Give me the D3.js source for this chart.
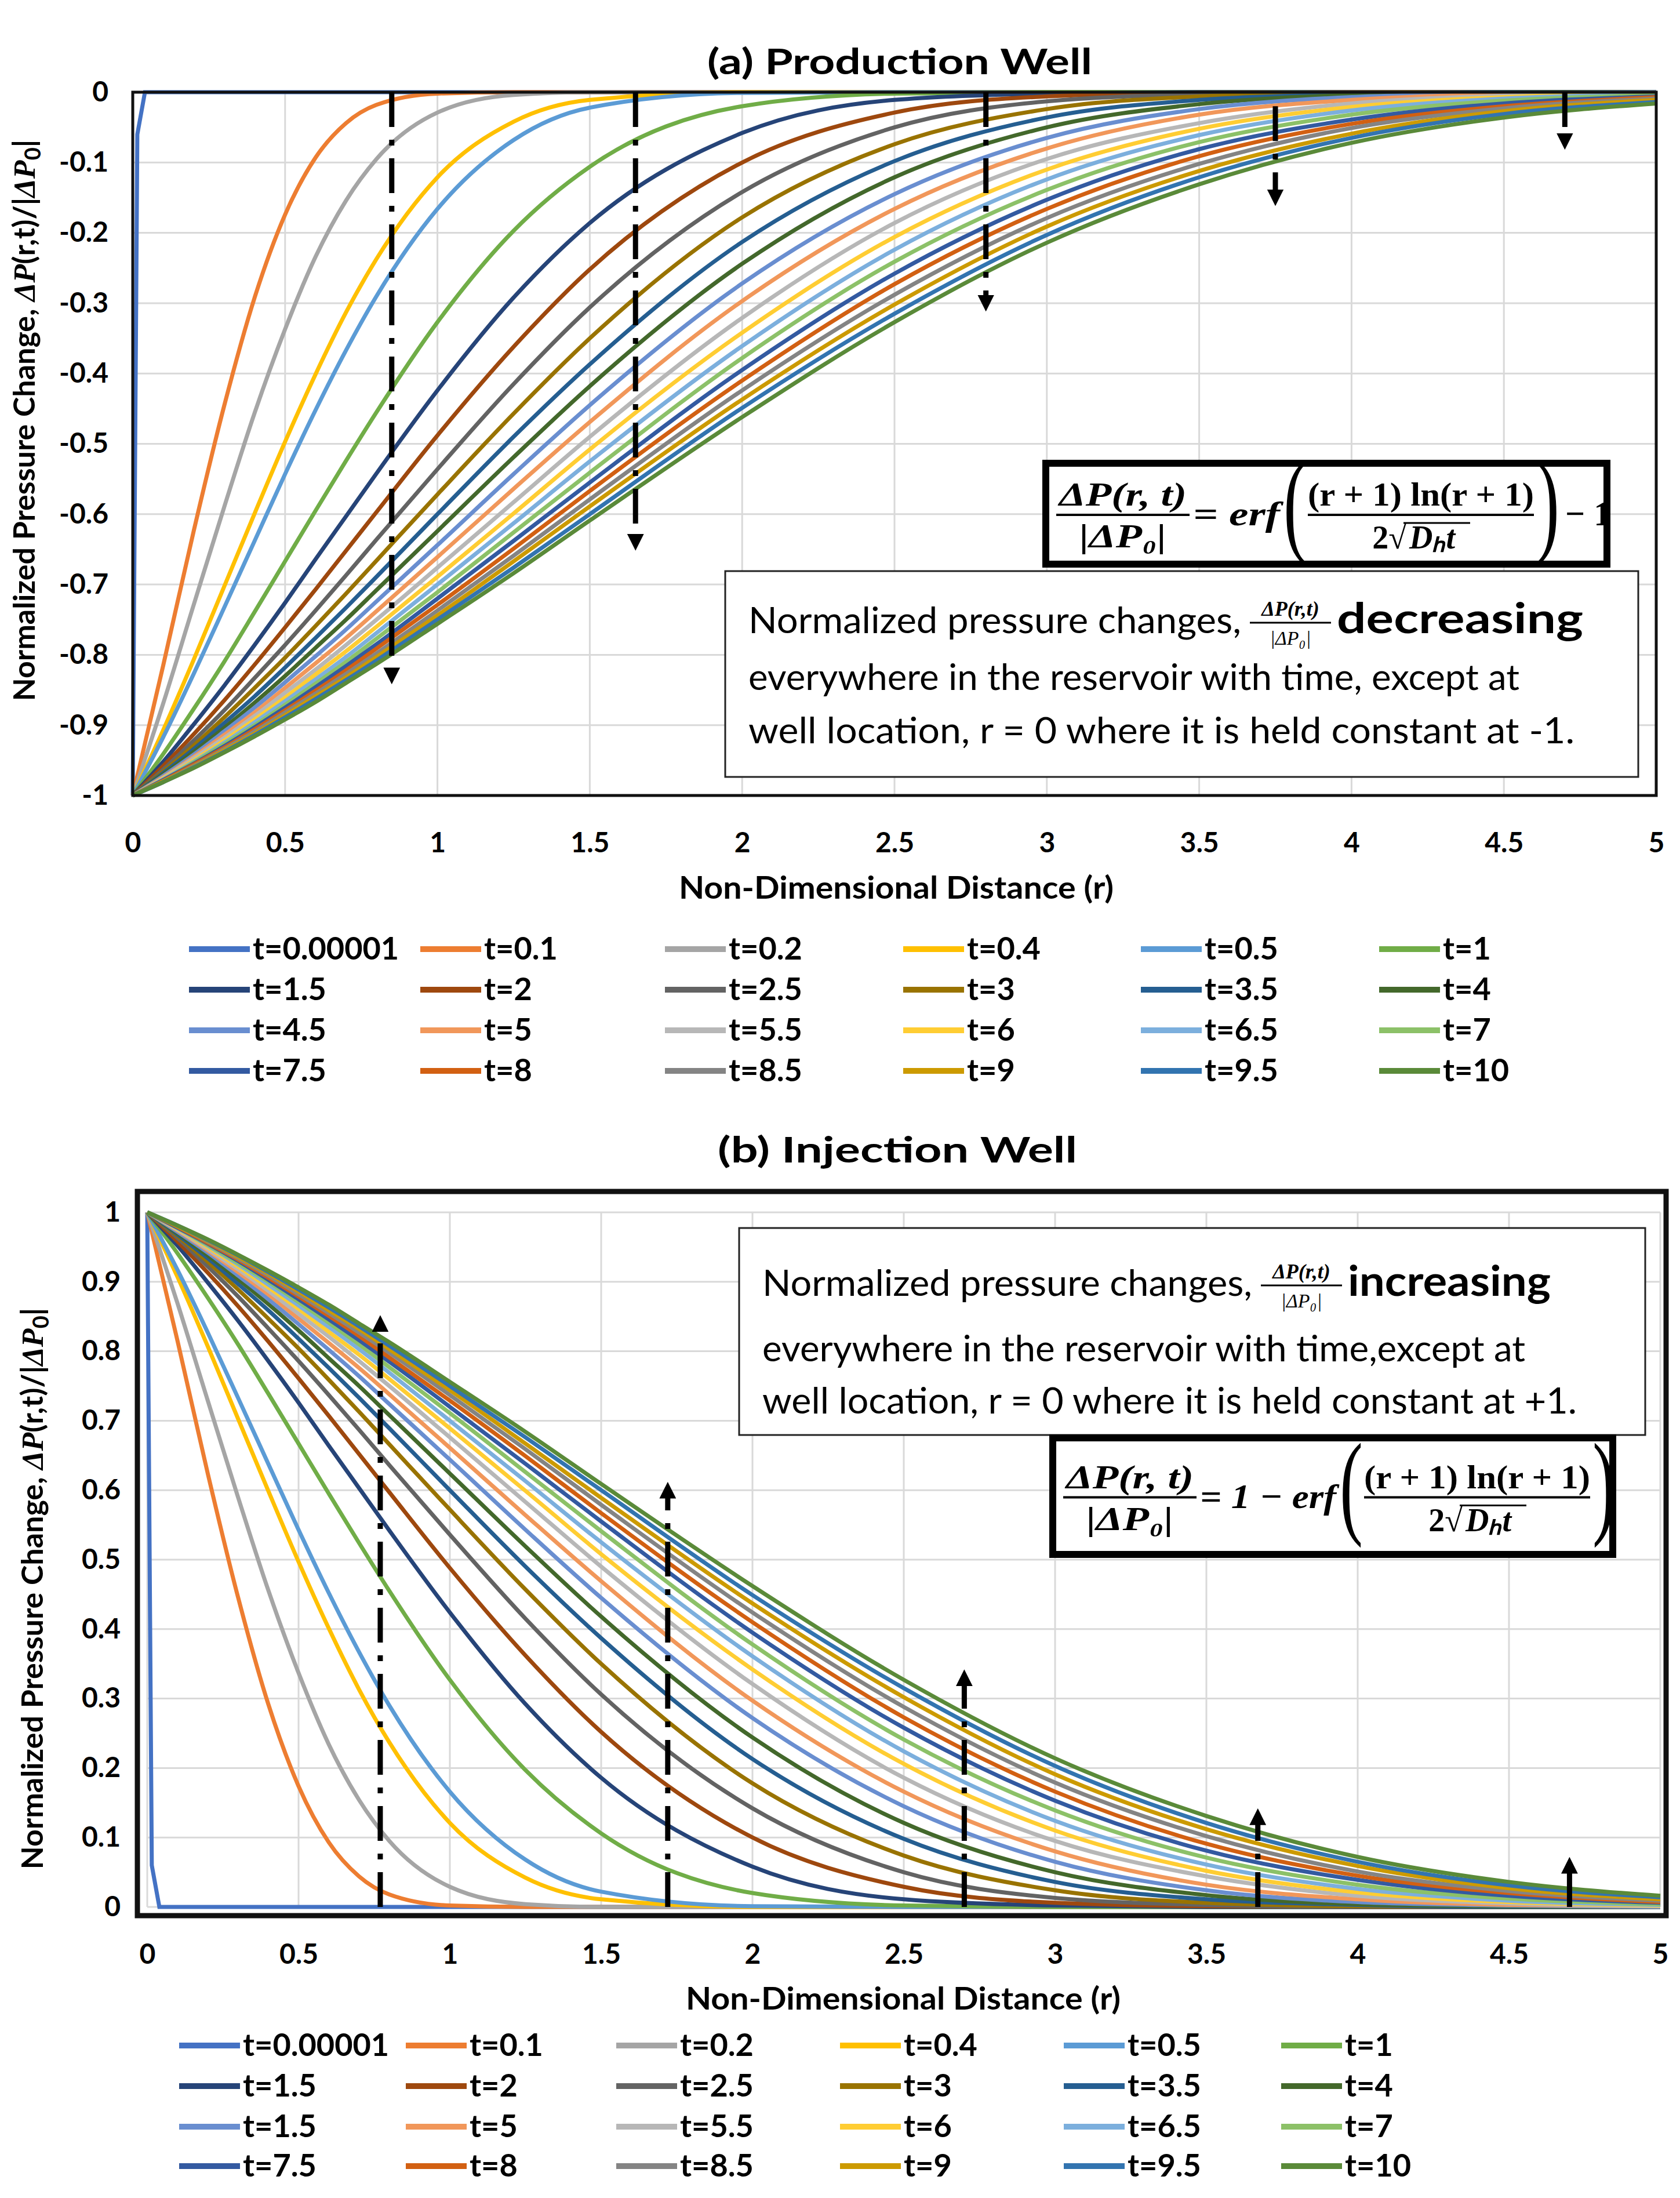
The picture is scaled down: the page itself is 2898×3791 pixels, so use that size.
<!DOCTYPE html>
<html><head><meta charset="utf-8">
<script src="https://cdn.jsdelivr.net/npm/d3@7"></script>
<style>body{margin:0;background:#fff}svg{display:block}</style>
</head><body>
<svg id="c" width="2898" height="3791"></svg>
<script>
// ---- DATA ----
const rValues = [0,0.1,0.2,0.3,0.4,0.5,0.6,0.7,0.8,1,1.25,1.5,2,2.5,3,3.5,4,4.5,5];
const tinyR = [0,0.015,0.04,5];
const tinyVals = [-1,-0.06,0,0];
const timeLabels = ["t=0.00001","t=0.1","t=0.2","t=0.4","t=0.5","t=1","t=1.5","t=2","t=2.5","t=3","t=3.5","t=4","t=4.5","t=5","t=5.5","t=6","t=6.5","t=7","t=7.5","t=8","t=8.5","t=9","t=9.5","t=10"];
const timeLabelsB = ["t=0.00001","t=0.1","t=0.2","t=0.4","t=0.5","t=1","t=1.5","t=2","t=2.5","t=3","t=3.5","t=4","t=1.5","t=5","t=5.5","t=6","t=6.5","t=7","t=7.5","t=8","t=8.5","t=9","t=9.5","t=10"];
const colors = ["#4472C4","#ED7D31","#A5A5A5","#FFC000","#5B9BD5","#70AD47","#264478","#9E480E","#636363","#997300","#255E91","#43682B","#698ED0","#F1975A","#B7B7B7","#FFCD33","#7CAFDD","#8CC168","#335AA1","#D26012","#848484","#CC9A00","#3274B0","#5A8A39"];
// production-well normalized pressure change for t=0.1 ... t=10 (at rValues)
const prodValues = [
[-1,-.815,-.624,-.446,-.292,-.174,-.093,-.044,-.018,-.002,0,0,0,0,0,0,0,0,0],
[-1,-.869,-.729,-.590,-.456,-.337,-.234,-.154,-.095,-.029,-.004,0,0,0,0,0,0,0,0],
[-1,-.907,-.807,-.703,-.599,-.497,-.401,-.313,-.237,-.121,-.042,-.011,0,0,0,0,0,0,0],
[-1,-.917,-.827,-.733,-.638,-.543,-.452,-.367,-.290,-.166,-.068,-.022,-.001,0,0,0,0,0,0],
[-1,-.941,-.877,-.810,-.739,-.667,-.595,-.524,-.455,-.327,-.197,-.106,-.020,-.002,0,0,0,0,0],
[-1,-.952,-.899,-.844,-.786,-.726,-.664,-.603,-.542,-.424,-.292,-.186,-.058,-.011,-.002,0,0,0,0],
[-1,-.958,-.913,-.865,-.814,-.761,-.707,-.652,-.597,-.488,-.362,-.252,-.100,-.029,-.006,-.001,0,0,0],
[-1,-.963,-.922,-.879,-.833,-.786,-.737,-.687,-.636,-.536,-.415,-.306,-.142,-.050,-.013,-.003,0,0,0],
[-1,-.966,-.929,-.889,-.847,-.804,-.759,-.713,-.666,-.572,-.457,-.350,-.178,-.074,-.024,-.006,-.001,0,0],
[-1,-.968,-.934,-.897,-.859,-.818,-.776,-.733,-.689,-.600,-.490,-.387,-.213,-.098,-.036,-.011,-.003,0,0],
[-1,-.970,-.938,-.904,-.868,-.830,-.790,-.750,-.708,-.624,-.519,-.418,-.244,-.121,-.050,-.017,-.004,-.001,0],
[-1,-.972,-.942,-.909,-.875,-.839,-.802,-.764,-.724,-.644,-.543,-.445,-.272,-.145,-.065,-.024,-.007,-.002,0],
[-1,-.974,-.945,-.914,-.882,-.847,-.812,-.776,-.738,-.661,-.564,-.469,-.297,-.166,-.080,-.032,-.011,-.003,-.001],
[-1,-.975,-.947,-.918,-.887,-.854,-.821,-.786,-.750,-.676,-.583,-.490,-.321,-.186,-.095,-.044,-.016,-.005,-.001],
[-1,-.976,-.950,-.922,-.892,-.861,-.828,-.795,-.760,-.689,-.599,-.508,-.342,-.206,-.110,-.052,-.021,-.007,-.002],
[-1,-.977,-.952,-.925,-.896,-.866,-.835,-.803,-.769,-.700,-.613,-.525,-.361,-.224,-.124,-.061,-.026,-.009,-.003],
[-1,-.978,-.953,-.927,-.900,-.871,-.841,-.810,-.777,-.711,-.626,-.541,-.378,-.241,-.139,-.071,-.032,-.012,-.004],
[-1,-.978,-.955,-.930,-.903,-.875,-.846,-.816,-.785,-.720,-.638,-.555,-.395,-.258,-.153,-.081,-.039,-.016,-.006],
[-1,-.979,-.956,-.932,-.906,-.879,-.851,-.822,-.791,-.729,-.649,-.567,-.410,-.273,-.166,-.091,-.045,-.020,-.007],
[-1,-.980,-.958,-.934,-.909,-.882,-.855,-.827,-.798,-.737,-.659,-.579,-.424,-.288,-.179,-.102,-.051,-.023,-.009],
[-1,-.980,-.959,-.936,-.912,-.886,-.859,-.832,-.803,-.744,-.667,-.589,-.437,-.302,-.191,-.112,-.059,-.027,-.011],
[-1,-.981,-.960,-.938,-.914,-.889,-.863,-.836,-.808,-.750,-.676,-.600,-.449,-.315,-.203,-.121,-.065,-.031,-.014],
[-1,-.981,-.961,-.939,-.916,-.892,-.867,-.840,-.813,-.756,-.684,-.609,-.462,-.327,-.214,-.131,-.072,-.036,-.016]
];
const xTicks = [0,0.5,1,1.5,2,2.5,3,3.5,4,4.5,5];
const yTicksA = [0,-0.1,-0.2,-0.3,-0.4,-0.5,-0.6,-0.7,-0.8,-0.9,-1];
const yTicksB = [0,0.1,0.2,0.3,0.4,0.5,0.6,0.7,0.8,0.9,1];
const arrowsA = [[0.85,0,-0.83],[1.65,0,-0.64],[2.8,0,-0.3],[3.75,-0.02,-0.15],[4.7,0,-0.07]];
const arrowsB = [[0.77,0,0.84],[1.72,0,0.6],[2.7,0,0.33],[3.67,0,0.13],[4.7,0,0.06]];

const FONT = "Lato, 'Open Sans', sans-serif";
const SERIF = "'Liberation Serif',serif";
const svg = d3.select("#c");
svg.append("defs").append("marker").attr("id","ah").attr("viewBox","0 0 10 10")
  .attr("refX",5).attr("refY",5).attr("markerWidth",3.2).attr("markerHeight",3.2).attr("orient","auto")
  .append("path").attr("d","M0,0L10,5L0,10Z").attr("fill","#000");

const fmt = d => String(d);

function panel(cfg){
  const x = d3.scaleLinear().domain([0,5]).range([cfg.x0,cfg.x1]);
  const y = d3.scaleLinear().domain(cfg.ydom).range([cfg.yTop,cfg.yBot]);
  const g = svg.append("g");
  g.append("text").attr("x",cfg.titleX).attr("y",cfg.titleY).attr("text-anchor","middle")
    .attr("font-family",FONT).attr("font-weight","bold").attr("font-size",62)
    .attr("textLength",cfg.titleLen).attr("lengthAdjust","spacingAndGlyphs").text(cfg.title);
  g.append("g").selectAll("line").data(xTicks).join("line")
    .attr("x1",d=>x(d)).attr("x2",d=>x(d)).attr("y1",cfg.yTop).attr("y2",cfg.yBot)
    .attr("stroke","#d9d9d9").attr("stroke-width",3);
  g.append("g").selectAll("line").data(cfg.yTicks).join("line")
    .attr("x1",cfg.x0).attr("x2",cfg.x1).attr("y1",d=>y(d)).attr("y2",d=>y(d))
    .attr("stroke","#d9d9d9").attr("stroke-width",3);
  const xa = g.append("g").attr("transform",`translate(0,${cfg.yBot})`)
    .call(d3.axisBottom(x).tickValues(xTicks).tickSize(0).tickPadding(cfg.xTickPad).tickFormat(fmt));
  xa.select(".domain").remove();
  xa.selectAll("text").attr("font-family",FONT).attr("font-weight","bold").attr("font-size",48).attr("fill","#000");
  const ya = g.append("g").attr("transform",`translate(${cfg.x0},0)`)
    .call(d3.axisLeft(y).tickValues(cfg.yTicks).tickSize(0).tickPadding(cfg.yTickPad).tickFormat(fmt));
  ya.select(".domain").remove();
  ya.selectAll("text").attr("font-family",FONT).attr("font-weight","bold").attr("font-size",48).attr("fill","#000");
  g.append("text").attr("x",cfg.xtX).attr("y",cfg.xtY).attr("text-anchor","middle")
    .attr("font-family",FONT).attr("font-weight","bold").attr("font-size",54)
    .attr("textLength",750).attr("lengthAdjust","spacingAndGlyphs").text("Non-Dimensional Distance (r)");
  const yt = g.append("text").attr("transform",`translate(${cfg.ytX},${cfg.ytY}) rotate(-90)`)
    .attr("text-anchor","middle").attr("font-family",FONT).attr("font-weight","bold").attr("font-size",52);
  yt.append("tspan").text("Normalized Pressure Change, ");
  yt.append("tspan").attr("font-family",SERIF).attr("font-style","italic").text("ΔP");
  yt.append("tspan").text("(r,t)/|");
  yt.append("tspan").attr("font-family",SERIF).attr("font-style","italic").text("ΔP");
  yt.append("tspan").attr("font-size",38).attr("dy",10).text("0");
  yt.append("tspan").attr("dy",-10).text("|");
  const line = d3.line().curve(d3.curveMonotoneX).x(d=>x(d[0])).y(d=>y(d[1]));
  const clip = "clip"+cfg.id;
  svg.append("clipPath").attr("id",clip).append("rect")
    .attr("x",cfg.x0-6).attr("y",cfg.yTop-6).attr("width",cfg.x1-cfg.x0+12).attr("height",cfg.yBot-cfg.yTop+12);
  const lg = g.append("g").attr("clip-path",`url(#${clip})`);
  const sgn = cfg.sign;
  lg.append("path").datum(tinyR.map((r,i)=>[r,sgn*tinyVals[i]]))
    .attr("d",d3.line().x(d=>x(d[0])).y(d=>y(d[1]))).attr("fill","none").attr("stroke",colors[0]).attr("stroke-width",7);
  prodValues.forEach((vals,k)=>{
    lg.append("path").datum(rValues.map((r,i)=>[r,sgn*vals[i]])).attr("d",line)
      .attr("fill","none").attr("stroke",colors[k+1]).attr("stroke-width",7).attr("stroke-linejoin","round");
  });
  g.append("rect").attr("x",cfg.fx0).attr("y",cfg.fy0).attr("width",cfg.fx1-cfg.fx0).attr("height",cfg.fy1-cfg.fy0)
    .attr("fill","none").attr("stroke","#111").attr("stroke-width",cfg.fw);
  g.append("g").selectAll("line").data(cfg.arrows).join("line")
    .attr("x1",d=>x(d[0])).attr("x2",d=>x(d[0])).attr("y1",d=>y(d[1])).attr("y2",d=>y(d[2]))
    .attr("stroke","#000").attr("stroke-width",9).attr("stroke-dasharray","60,22,10,22")
    .attr("marker-end","url(#ah)");
  cfg.labels.forEach((lab,i)=>{
    const col=i%6,row=Math.floor(i/6);
    const lx=cfg.legX[col], ly=cfg.legY[row];
    g.append("line").attr("x1",lx).attr("x2",lx+105).attr("y1",ly).attr("y2",ly)
      .attr("stroke",colors[i]).attr("stroke-width",10);
    g.append("text").attr("x",lx+110).attr("y",ly+18).attr("font-family",FONT).attr("font-weight","bold")
      .attr("font-size",54).text(lab);
  });
  return {x,y,g};
}

function T(g,x,y,s,sz,anchor,style,len){
  const t=g.append("text").attr("x",x).attr("y",y).attr("font-family",SERIF)
    .attr("font-size",sz).attr("font-weight","bold").attr("font-style",style||"normal").attr("text-anchor",anchor||"start").text(s);
  if(len) t.attr("textLength",len).attr("lengthAdjust","spacingAndGlyphs");
  return t;
}
function formula(g,bx,by,bw,bh,prefix,prefW,suffix){
  g.append("rect").attr("x",bx).attr("y",by).attr("width",bw).attr("height",bh)
    .attr("fill","#fff").attr("stroke","#000").attr("stroke-width",12);
  const cy=by+bh/2+2;
  let x=bx+18;
  T(g,x+115,cy-16,"ΔP(r, t)",58,"middle","italic",220);
  g.append("line").attr("x1",x).attr("x2",x+230).attr("y1",cy).attr("y2",cy).attr("stroke","#000").attr("stroke-width",4);
  T(g,x+115,cy+56,"|ΔP₀|",58,"middle","italic",150);
  x+=236;
  T(g,x,cy+18,prefix,60,"start","italic",prefW);
  x+=prefW+6;
  g.append("text").attr("x",x).attr("y",cy+45).attr("font-family",SERIF).attr("font-size",200).attr("transform",`translate(${x},${cy}) scale(0.6,1) translate(${-x},${-cy})`).text("(");
  x+=42;
  const iw=390;
  T(g,x+iw/2,cy-16,"(r + 1) ln(r + 1)",56,"middle","normal",iw);
  g.append("line").attr("x1",x).attr("x2",x+iw).attr("y1",cy).attr("y2",cy).attr("stroke","#000").attr("stroke-width",4);
  T(g,x+iw/2-25,cy+58,"2√",56,"end","normal");
  T(g,x+iw/2-20,cy+58,"Dₕt",56,"start","italic");
  g.append("line").attr("x1",x+iw/2-30).attr("x2",x+iw/2+85).attr("y1",cy+14).attr("y2",cy+14).attr("stroke","#000").attr("stroke-width",3);
  x+=iw+4;
  g.append("text").attr("x",x).attr("y",cy+45).attr("font-family",SERIF).attr("font-size",200).attr("transform",`translate(${x},${cy}) scale(0.6,1) translate(${-x},${-cy})`).text(")");
  if(suffix) T(g,x+50,cy+18,suffix,60,"start","normal");
}

function note(g,bx,by,bw,bh,word,wordLen,lines,lens,ys){
  g.append("rect").attr("x",bx).attr("y",by).attr("width",bw).attr("height",bh)
    .attr("fill","#fff").attr("stroke","#222").attr("stroke-width",3);
  const lx=bx+40;
  const L=(s,y,len)=>g.append("text").attr("x",lx).attr("y",y).attr("font-family",FONT).attr("font-size",62)
    .attr("textLength",len).attr("lengthAdjust","spacingAndGlyphs").text(s);
  L("Normalized pressure changes,",ys[0],lens[0]);
  const fx=lx+lens[0]+10;
  g.append("text").attr("x",fx+75).attr("y",ys[0]-30).attr("text-anchor","middle").attr("font-family",SERIF)
    .attr("font-style","italic").attr("font-weight","bold").attr("font-size",36).text("ΔP(r,t)");
  g.append("line").attr("x1",fx+5).attr("x2",fx+145).attr("y1",ys[0]-18).attr("y2",ys[0]-18).attr("stroke","#000").attr("stroke-width",3);
  g.append("text").attr("x",fx+75).attr("y",ys[0]+20).attr("text-anchor","middle").attr("font-family",SERIF)
    .attr("font-style","italic").attr("font-size",34).text("|ΔP₀|");
  g.append("text").attr("x",fx+155).attr("y",ys[0]).attr("font-family",FONT).attr("font-weight","bold").attr("font-size",72)
    .attr("textLength",wordLen).attr("lengthAdjust","spacingAndGlyphs").text(word);
  L(lines[0],ys[1],lens[1]);
  L(lines[1],ys[2],lens[2]);
}

const A = panel({id:"a",title:"(a) Production Well",titleLen:664,titleX:1552,titleY:128,x0:229,x1:2857,yTop:159,yBot:1372,
  ydom:[0,-1],yTicks:yTicksA,xTickPad:64,yTickPad:42,xtX:1546,xtY:1550,ytX:60,ytY:725,
  fx0:229,fx1:2857,fy0:159,fy1:1372,fw:5,arrows:arrowsA,labels:timeLabels,
  legX:[326,725,1147,1558,1968,2379],legY:[1637,1707,1777,1847],sign:1});
formula(A.g,1804,799,968,174,"= erf",150,"− 1");
note(A.g,1251,985,1575,355,"decreasing",425,
  ["everywhere in the reservoir with time, except at","well location, r = 0 where it is held constant at -1."],
  [850,1330,1425],[1092,1190,1282]);

const B = panel({id:"b",title:"(b) Injection Well",titleLen:620,titleX:1548,titleY:2005,x0:254,x1:2864,yTop:2091,yBot:3289,
  ydom:[1,0],yTicks:yTicksB,xTickPad:64,yTickPad:46,xtX:1558,xtY:3466,ytX:74,ytY:2740,
  fx0:237,fx1:2874,fy0:2055,fy1:3304,fw:9,arrows:arrowsB,labels:timeLabelsB,
  legX:[309,700,1063,1449,1835,2210],legY:[3528,3598,3668,3736],sign:-1});
note(B.g,1275,2118,1563,357,"increasing",350,
  ["everywhere in the reservoir with time,except at","well location, r = 0 where it is held constant at +1."],
  [845,1316,1405],[2235,2348,2438]);
formula(B.g,1816,2480,966,201,"= 1 − erf",235,"");
</script>
</body></html>
